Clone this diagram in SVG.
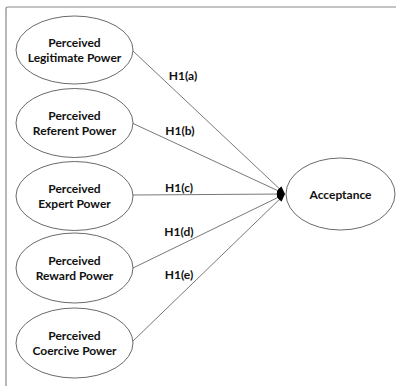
<svg xmlns="http://www.w3.org/2000/svg" width="396" height="387" viewBox="0 0 396 387">
<defs>
<style>
.node ellipse{fill:#fff;stroke:#444;stroke-width:0.8}
.node text,.lbl{font-family:Lato,"Open Sans","Liberation Sans",sans-serif;font-weight:700;font-size:12px;fill:#111;text-anchor:middle}
.edge{stroke:#555;stroke-width:0.8;fill:none;marker-end:url(#ah)}
</style>
<marker id="ah" viewBox="0 0 10 10" refX="10" refY="5" markerWidth="8" markerHeight="8" markerUnits="userSpaceOnUse" orient="auto">
<path d="M0,1 L10,5 L0,9 z" fill="#000"/>
</marker>
</defs>
<rect width="396" height="387" fill="#fff"/>
<path d="M6,386 L6,9 Q6,7 8,7 L396,7" fill="none" stroke="#888" stroke-width="1.2"/>
<g id="connectors">
<line class="edge" x1="133" y1="51" x2="285" y2="194"/>
<line class="edge" x1="132" y1="123" x2="285" y2="194"/>
<line class="edge" x1="133" y1="195" x2="285" y2="194"/>
<line class="edge" x1="133" y1="268" x2="285" y2="194"/>
<line class="edge" x1="132" y1="342" x2="285" y2="194"/>
<text class="lbl" x="183" y="80">H1(a)</text>
<text class="lbl" x="180" y="135">H1(b)</text>
<text class="lbl" x="179" y="192">H1(c)</text>
<text class="lbl" x="179" y="236">H1(d)</text>
<text class="lbl" x="179" y="279">H1(e)</text>
</g>
<g id="legitimate" class="node"><ellipse cx="74.5" cy="50" rx="58.5" ry="34"/><text x="74.5" y="47">Perceived</text><text x="74.5" y="61.5">Legitimate Power</text></g>
<g id="referent" class="node"><ellipse cx="74.5" cy="123" rx="58.5" ry="34.5"/><text x="74.5" y="120">Perceived</text><text x="74.5" y="134.5">Referent Power</text></g>
<g id="expert" class="node"><ellipse cx="74.5" cy="196" rx="58.5" ry="34.5"/><text x="74.5" y="193">Perceived</text><text x="74.5" y="207.5">Expert Power</text></g>
<g id="reward" class="node"><ellipse cx="74.5" cy="268" rx="58.5" ry="35"/><text x="74.5" y="265">Perceived</text><text x="74.5" y="280">Reward Power</text></g>
<g id="coercive" class="node"><ellipse cx="74.5" cy="343" rx="58.5" ry="35"/><text x="74.5" y="340">Perceived</text><text x="74.5" y="354.5">Coercive Power</text></g>
<g id="acceptance" class="node"><ellipse cx="340.5" cy="194" rx="54.5" ry="36"/><text x="340.5" y="199">Acceptance</text></g>
</svg>
